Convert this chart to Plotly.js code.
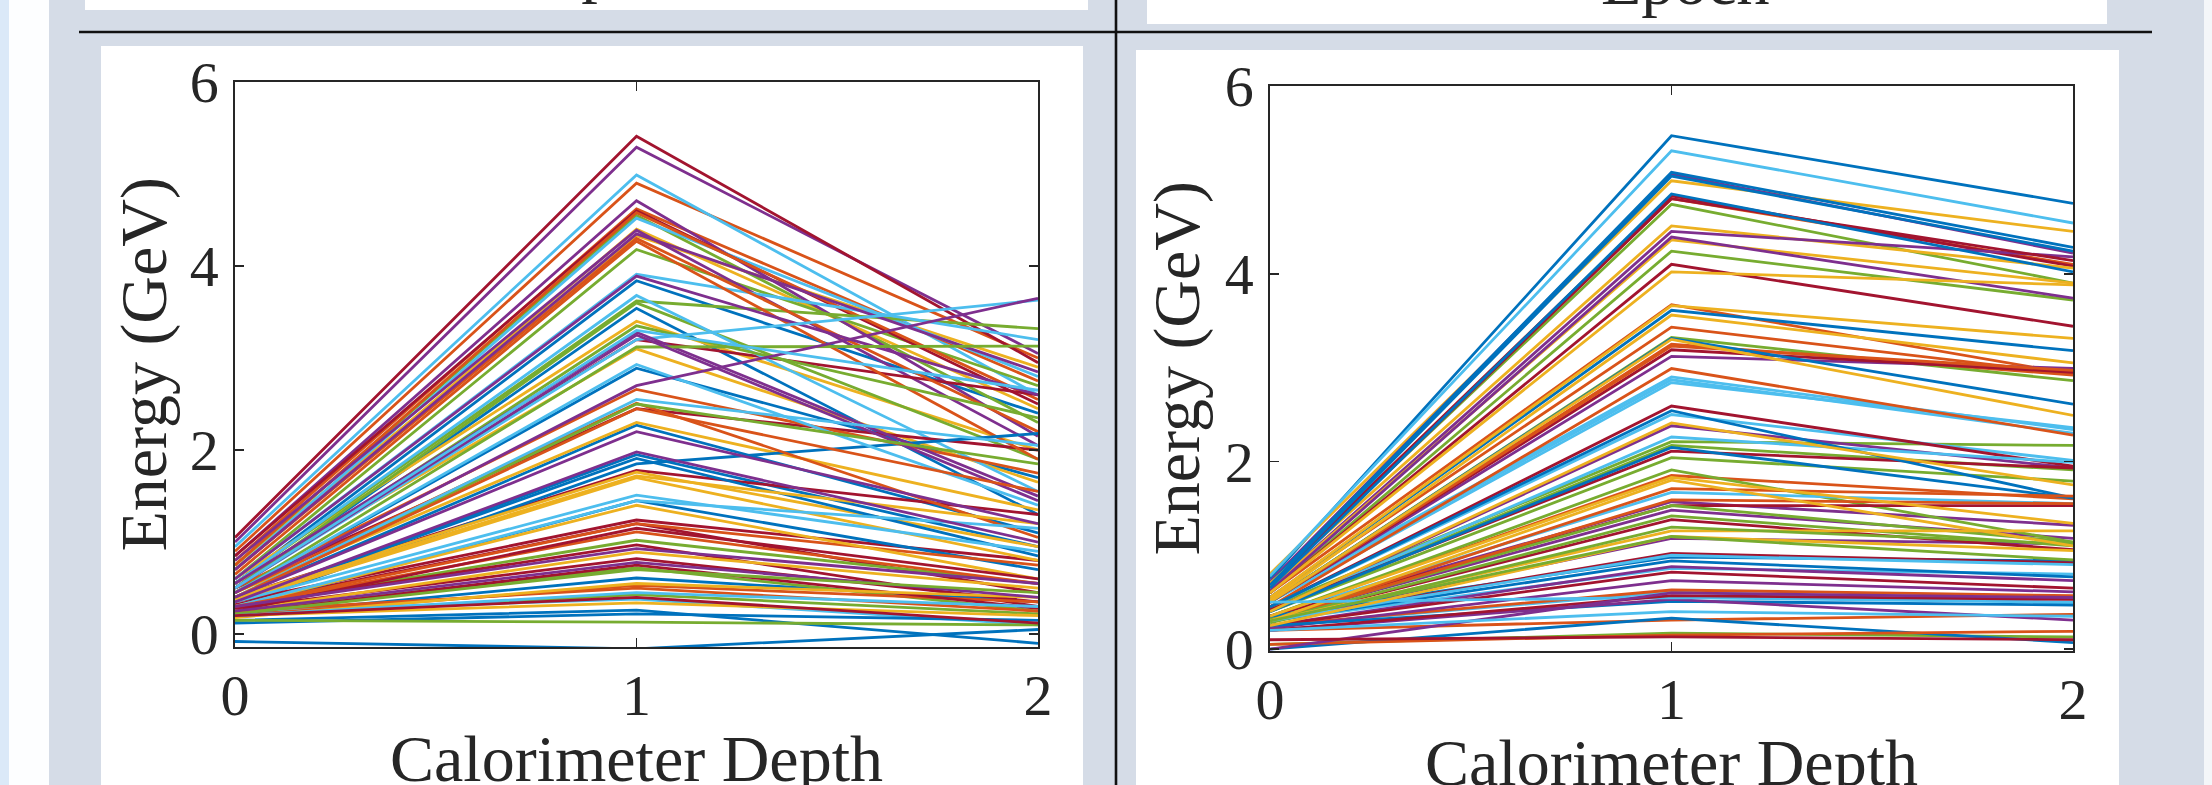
<!DOCTYPE html>
<html>
<head>
<meta charset="utf-8">
<script src="https://cdn.plot.ly/plotly-3.0.1.min.js"></script>
<style>
  html, body { margin: 0; padding: 0; background: #d5dce7; }
  #chart { width: 2212px; height: 785px; }
</style>
</head>
<body>
<div id="chart"></div>
<script>
// Calorimeter depth positions (x axis)
const depth = [0, 1, 2];
const xTickLabels = ['0', '1', '2'];
const yTickValues = [0, 2, 4, 6];

// MATLAB default colour order; line i uses palette[i % 7]
const palette = ['#0072BD', '#D95319', '#EDB120', '#7E2F8E', '#77AC30', '#4DBEEE', '#A2142F'];

// ---- Left panel: energy (GeV) per shower at depth 0, 1, 2 ----
const leftDepth0 = [
  0.55, 0.9, 0.75, 1.0, 0.75, 0.95, 1.05,
  0.5, 0.8, 0.7, 0.85, 0.6, 0.7, 0.85,
  0.45, 0.75, 0.6, 0.8, 0.55, 0.6, 0.55,
  0.4, 0.7, 0.55, 0.7, 0.5, 0.55, 0.5,
  0.35, 0.65, 0.45, 0.6, 0.5, 0.5, 0.4,
  0.3, 0.5, 0.4, 0.55, 0.45, 0.45, 0.35,
  0.35, 0.45, 0.38, 0.5, 0.4, 0.4, 0.32,
  0.28, 0.4, 0.35, 0.45, 0.3, 0.35, 0.3,
  0.2, 0.3, 0.3, 0.4, 0.25, 0.3, 0.28,
  0.15, 0.3, 0.25, 0.35, 0.2, 0.25, 0.25,
  0.12, 0.2, 0.2, 0.3, 0.15, 0.5, 0.22,
  -0.08, 0.25, 0.18, 0.25, 0.22, 0.2, 0.2
];
const leftDepth1 = [
  3.84, 4.9, 4.33, 5.29, 4.55, 4.99, 5.41,
  3.54, 4.62, 4.4, 4.71, 4.18, 4.52, 4.6,
  2.89, 4.58, 3.4, 4.39, 3.62, 3.91, 3.2,
  2.27, 4.3, 3.1, 4.35, 3.6, 3.68, 2.45,
  1.95, 4.27, 2.3, 3.89, 3.35, 3.2, 1.78,
  1.85, 2.66, 1.76, 3.28, 3.12, 2.93, 1.24,
  1.91, 2.51, 1.72, 3.25, 2.5, 2.55, 1.2,
  1.45, 2.45, 1.7, 2.7, 1.02, 1.51, 0.97,
  0.61, 1.2, 1.4, 2.2, 0.72, 1.45, 0.82,
  0.26, 1.11, 0.89, 1.98, 0.43, 0.38, 1.15,
  0.22, 0.53, 0.34, 0.93, 0.13, 3.3, 0.75,
  -0.16, 0.5, 0.55, 0.78, 0.7, 0.45, 0.4
];
const leftDepth2 = [
  2.4, 3.0, 2.9, 3.05, 2.3, 2.6, 2.95,
  1.3, 2.75, 2.45, 2.15, 2.7, 2.8, 2.5,
  1.7, 2.55, 2.0, 2.05, 3.32, 3.2, 2.6,
  1.1, 2.2, 1.65, 2.85, 1.9, 1.55, 2.0,
  0.95, 1.9, 1.35, 2.6, 2.35, 3.63, 1.3,
  2.18, 1.75, 0.95, 1.5, 3.13, 1.4, 0.8,
  0.85, 1.05, 1.2, 1.45, 1.85, 2.05, 0.45,
  0.7, 1.55, 0.8, 3.65, 0.55, 0.9, 0.3,
  0.35, 0.75, 0.6, 1.2, 0.25, 1.15, 0.35,
  -0.1, 0.55, 0.5, 1.0, 0.22, 0.1, 0.6,
  0.15, 0.35, 0.2, 0.55, 0.1, 2.65, 0.28,
  0.05, 0.25, 0.4, 0.4, 0.45, 0.3, 0.12
];

// ---- Right panel ----
const rightDepth0 = [
  0.75, 0.7, 0.8, 0.72, 0.7, 0.78, 0.7,
  0.7, 0.6, 0.7, 0.65, 0.6, 0.55, 0.68,
  0.68, 0.55, 0.65, 0.62, 0.5, 0.53, 0.6,
  0.65, 0.5, 0.6, 0.5, 0.45, 0.5, 0.5,
  0.55, 0.5, 0.55, 0.4, 0.42, 0.45, 0.45,
  0.5, 0.45, 0.52, 0.35, 0.4, 0.4, 0.42,
  0.45, 0.35, 0.5, 0.32, 0.35, 0.35, 0.35,
  0.4, 0.3, 0.4, 0.3, 0.32, 0.3, 0.3,
  0.35, 0.3, 0.35, 0.25, 0.3, 0.25, 0.3,
  0.3, 0.25, 0.3, 0.22, 0.28, 0.3, 0.25,
  0.25, 0.2, 0.3, 0.2, 0.05, 0.5, 0.2,
  0.0, 0.05, 0.25, 0.0, 0.3, 0.2, 0.1
];
const rightDepth1 = [
  5.47, 4.8, 4.99, 5.06, 4.74, 5.31, 4.83,
  5.08, 3.67, 4.51, 4.45, 4.24, 2.9, 4.8,
  5.04, 3.43, 4.36, 4.39, 3.32, 2.87, 4.1,
  4.85, 3.25, 4.02, 3.12, 2.21, 2.84, 3.19,
  3.61, 3.23, 3.66, 2.38, 2.17, 2.5, 2.59,
  3.31, 2.99, 3.56, 1.57, 2.04, 2.26, 2.11,
  2.54, 1.85, 3.3, 1.48, 1.91, 1.67, 1.53,
  2.15, 1.71, 2.41, 1.18, 1.53, 0.86, 1.38,
  0.98, 1.59, 1.83, 0.88, 1.42, 0.61, 1.02,
  0.94, 0.63, 1.26, 0.73, 1.3, 1.0, 0.82,
  0.51, 0.31, 1.8, 0.53, 0.17, 0.55, 0.57,
  0.33, 0.15, 1.2, 0.6, 1.2, 0.4, 0.13
];
const rightDepth2 = [
  4.75, 4.1, 4.45, 4.22, 3.9, 4.54, 4.08,
  4.28, 2.93, 4.06, 4.18, 3.72, 2.34, 4.14,
  4.24, 2.93, 3.9, 3.74, 2.86, 2.3, 3.44,
  4.02, 2.92, 3.88, 2.99, 2.17, 2.36, 2.95,
  3.18, 2.97, 3.31, 1.93, 1.91, 2.01, 1.95,
  2.61, 2.28, 3.05, 1.32, 1.79, 1.99, 1.93,
  1.61, 1.6, 2.49, 1.18, 1.14, 1.55, 1.53,
  1.61, 1.63, 1.75, 1.12, 1.14, 0.8, 1.06,
  0.94, 1.55, 1.34, 0.73, 1.1, 0.49, 0.92,
  0.77, 0.57, 1.26, 0.61, 1.12, 0.9, 0.65,
  0.47, 0.37, 1.1, 0.31, 0.13, 0.5, 0.53,
  0.07, 0.19, 1.05, 0.55, 0.95, 0.35, 0.1
];

// ---- build traces ----
const W = 2212, H = 785;
const px = v => v / W;
const py = v => 1 - v / H;

function panelTraces(d0, d1, d2, xa, ya) {
  const out = [];
  for (let i = 0; i < d0.length; i++) {
    out.push({
      type: 'scatter', mode: 'lines',
      x: depth, y: [d0[i], d1[i], d2[i]],
      xaxis: xa, yaxis: ya,
      line: { color: palette[i % palette.length], width: 2.8 },
      hoverinfo: 'skip', showlegend: false
    });
  }
  return out;
}

const traces = [].concat(
  panelTraces(leftDepth0, leftDepth1, leftDepth2, 'x', 'y'),
  panelTraces(rightDepth0, rightDepth1, rightDepth2, 'x2', 'y2')
);

const fontFam = '"Liberation Serif", "DejaVu Serif", serif';
const ink = '#262626';

function xAxis(domain, anchor) {
  return {
    domain: domain, anchor: anchor, range: [0, 2],
    tickmode: 'array', tickvals: depth, ticktext: xTickLabels,
    ticks: 'inside', ticklen: 9, tickwidth: 1.6, tickcolor: ink,
    showline: true, linecolor: ink, linewidth: 1.6, mirror: 'ticks',
    showgrid: false, zeroline: false, fixedrange: true,
    ticklabelstandoff: -3,
    tickfont: { family: fontFam, size: 58, color: ink }
  };
}
function yAxis(domain, anchor, range) {
  return {
    domain: domain, anchor: anchor, range: range,
    tickmode: 'array', tickvals: yTickValues,
    ticks: 'inside', ticklen: 9, tickwidth: 1.6, tickcolor: ink,
    showline: true, linecolor: ink, linewidth: 1.6, mirror: 'ticks',
    showgrid: false, zeroline: false, fixedrange: true,
    ticklabelstandoff: 3,
    tickfont: { family: fontFam, size: 58, color: ink }
  };
}

const bg = '#d5dce7';
const rect = (x0, y0, x1, y1, color) => ({
  type: 'rect', xref: 'paper', yref: 'paper', layer: 'below',
  x0: px(x0), x1: px(x1), y0: py(y1), y1: py(y0),
  fillcolor: color, line: { width: 0 }
});
const hline = (x0, x1, y) => ({
  type: 'line', xref: 'paper', yref: 'paper', layer: 'above',
  x0: px(x0), x1: px(x1), y0: py(y), y1: py(y),
  line: { color: '#111111', width: 2.6 }
});
const vline = (x, y0, y1) => ({
  type: 'line', xref: 'paper', yref: 'paper', layer: 'above',
  x0: px(x), x1: px(x), y0: py(y0), y1: py(y1),
  line: { color: '#111111', width: 2.6 }
});

const shapes = [
  rect(0, 0, 9, 785, '#dbe9f8'),
  rect(9, 0, 49, 785, '#fdfeff'),
  rect(2204, 0, 2212, 785, '#f4f6f9'),
  rect(85, 0, 1088, 10, '#ffffff'),
  rect(1147, 0, 2107, 24, '#ffffff'),
  rect(101, 46, 1083, 785, '#ffffff'),
  rect(1136, 50, 2119, 785, '#ffffff'),
  hline(79, 2152, 32),
  vline(1116, 0, 785)
];

const titleFont = { family: fontFam, size: 66, color: ink };
const annotations = [
  { text: 'Energy (GeV)', textangle: -90, xref: 'paper', yref: 'paper',
    x: px(143), y: py(364.5), xanchor: 'center', yanchor: 'middle',
    showarrow: false, font: titleFont },
  { text: 'Energy (GeV)', textangle: -90, xref: 'paper', yref: 'paper',
    x: px(1176), y: py(368.5), xanchor: 'center', yanchor: 'middle',
    showarrow: false, font: titleFont },
  { text: 'Calorimeter Depth', xref: 'paper', yref: 'paper',
    x: px(636.5), y: py(720), xanchor: 'center', yanchor: 'top',
    showarrow: false, font: titleFont },
  { text: 'Calorimeter Depth', xref: 'paper', yref: 'paper',
    x: px(1671.5), y: py(724), xanchor: 'center', yanchor: 'top',
    showarrow: false, font: titleFont },
  // bottoms of the x-axis titles of the panels above (cut by the crop)
  { text: 'Epoch', xref: 'paper', yref: 'paper',
    x: px(625), y: py(6), xanchor: 'center', yanchor: 'bottom',
    showarrow: false, font: titleFont },
  { text: 'Epoch', xref: 'paper', yref: 'paper',
    x: px(1685), y: py(20), xanchor: 'center', yanchor: 'bottom',
    showarrow: false, font: titleFont }
];

const layout = {
  width: W, height: H,
  margin: { l: 0, r: 0, t: 0, b: 0, pad: 0 },
  paper_bgcolor: bg,
  plot_bgcolor: 'rgba(0,0,0,0)',
  showlegend: false,
  xaxis: xAxis([px(235), px(1038)], 'y'),
  yaxis: yAxis([py(647), py(82)], 'x', [-0.14, 6]),
  xaxis2: xAxis([px(1270), px(2073)], 'y2'),
  yaxis2: yAxis([py(651), py(86)], 'x2', [-0.02, 6]),
  shapes: shapes,
  annotations: annotations
};

Plotly.newPlot('chart', traces, layout, { staticPlot: true, displayModeBar: false });
</script>
</body>
</html>
